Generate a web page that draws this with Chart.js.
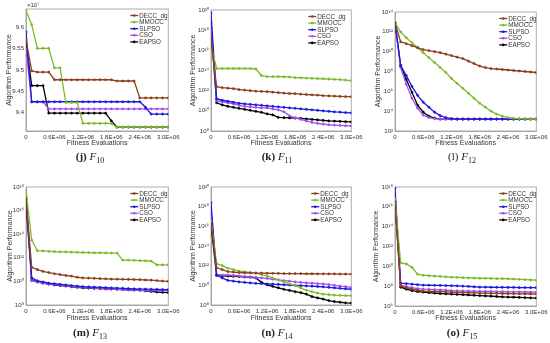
<!DOCTYPE html>
<html>
<head>
<meta charset="utf-8">
<script src="https://cdn.jsdelivr.net/npm/chart.js@4.4.0/dist/chart.umd.min.js"></script>
<style>
  body { margin: 0; background: #fff; width: 550px; height: 343px; position: relative; overflow: hidden; }
  canvas { position: absolute; }
  .cap { position: absolute; width: 120px; text-align: center; font-family: "Liberation Serif", "Times New Roman", serif; font-size: 11px; color: #222; }
  .cap sub { font-size: 8px; }
</style>
</head>
<body>
<canvas id="f10"></canvas>
<canvas id="f11"></canvas>
<canvas id="f12"></canvas>
<canvas id="f13"></canvas>
<canvas id="f14"></canvas>
<canvas id="f15"></canvas>
<div class="cap" style="left:30px;top:150px"><b>(j)</b> <i>F</i><sub>10</sub></div>
<div class="cap" style="left:217px;top:150px"><b>(k)</b> <i>F</i><sub>11</sub></div>
<div class="cap" style="left:402px;top:150px">(l) <i>F</i><sub>12</sub></div>
<div class="cap" style="left:30px;top:326px"><b>(m)</b> <i>F</i><sub>13</sub></div>
<div class="cap" style="left:217px;top:326px"><b>(n)</b> <i>F</i><sub>14</sub></div>
<div class="cap" style="left:402px;top:326px"><b>(o)</b> <i>F</i><sub>15</sub></div>
<script>
// fitness evaluations (one sample every 1.2E+05)
const xs = [0, 120000, 240000, 360000, 480000, 600000, 720000, 840000, 960000, 1080000,
  1200000, 1320000, 1440000, 1560000, 1680000, 1800000, 1920000, 2040000, 2160000, 2280000,
  2400000, 2520000, 2640000, 2760000, 2880000, 3000000];
const xTickVals = [0, 600000, 1200000, 1800000, 2400000, 3000000];
const xTickLabels = ['0', '0.6E+06', '1.2E+06', '1.8E+06', '2.4E+06', '3.0E+06'];

const names = ['DECC_dg', 'MMOCC', 'SLPSO', 'CSO', 'EAPSO'];
const colors = ['#8c3f1c', '#7cbc2a', '#1a1ae0', '#a64cf0', '#000000'];

// F10: values in units of 10^7
const f10Decc  = [9.572, 9.498, 9.495, 9.495, 9.495, 9.477, 9.477, 9.477, 9.477, 9.477, 9.477, 9.477, 9.477, 9.477, 9.477, 9.477, 9.474, 9.474, 9.474, 9.474, 9.434, 9.434, 9.434, 9.434, 9.434, 9.434];
const f10Mmocc = [9.640, 9.607, 9.551, 9.551, 9.551, 9.505, 9.505, 9.423, 9.423, 9.423, 9.374, 9.374, 9.374, 9.374, 9.374, 9.374, 9.365, 9.365, 9.365, 9.365, 9.365, 9.365, 9.365, 9.365, 9.365, 9.365];
const f10Slpso = [9.590, 9.425, 9.425, 9.425, 9.425, 9.425, 9.425, 9.425, 9.425, 9.425, 9.425, 9.425, 9.425, 9.425, 9.425, 9.425, 9.425, 9.425, 9.425, 9.425, 9.425, 9.412, 9.396, 9.396, 9.396, 9.396];
const f10Cso   = [9.550, 9.425, 9.425, 9.425, 9.408, 9.408, 9.408, 9.408, 9.408, 9.408, 9.408, 9.408, 9.408, 9.408, 9.408, 9.408, 9.408, 9.408, 9.408, 9.408, 9.408, 9.408, 9.408, 9.408, 9.408, 9.408];
const f10Eapso = [9.565, 9.463, 9.463, 9.463, 9.398, 9.398, 9.398, 9.398, 9.398, 9.398, 9.398, 9.398, 9.398, 9.398, 9.398, 9.380, 9.365, 9.365, 9.365, 9.365, 9.365, 9.365, 9.365, 9.365, 9.365, 9.365];
const f10Ticks = [9.4, 9.45, 9.5, 9.55, 9.6];

// F11..F15: log10 of the plotted values
const f11Decc  = [17.0, 12.4, 12.3, 12.25, 12.2, 12.1, 12.05, 12.0, 11.95, 11.92, 11.9, 11.85, 11.8, 11.75, 11.72, 11.7, 11.65, 11.62, 11.58, 11.55, 11.5, 11.48, 11.45, 11.43, 11.41, 11.4];
const f11Mmocc = [16.5, 14.2, 14.2, 14.2, 14.2, 14.2, 14.2, 14.2, 14.15, 13.5, 13.4, 13.4, 13.4, 13.38, 13.35, 13.3, 13.28, 13.25, 13.22, 13.2, 13.18, 13.15, 13.12, 13.1, 13.05, 13.0];
const f11Slpso = [19.7, 11.2, 11.05, 10.95, 10.85, 10.75, 10.7, 10.65, 10.6, 10.55, 10.5, 10.45, 10.4, 10.35, 10.3, 10.25, 10.2, 10.15, 10.1, 10.05, 10.0, 9.95, 9.9, 9.87, 9.83, 9.8];
const f11Cso   = [18.7, 11.0, 10.9, 10.8, 10.7, 10.55, 10.45, 10.4, 10.35, 10.3, 10.3, 10.2, 10.1, 9.9, 9.5, 9.3, 9.15, 9.0, 8.85, 8.75, 8.68, 8.62, 8.58, 8.55, 8.52, 8.5];
const f11Eapso = [18.2, 10.8, 10.6, 10.45, 10.35, 10.25, 10.15, 10.05, 9.95, 9.85, 9.7, 9.6, 9.35, 9.32, 9.3, 9.28, 9.25, 9.2, 9.15, 9.1, 9.05, 9.0, 8.98, 8.95, 8.92, 8.9];
const f11Ticks = [8, 10, 12, 14, 16, 18, 20];

const f12Decc  = [12.9, 11.0, 10.8, 10.6, 10.4, 10.2, 10.1, 10.0, 9.9, 9.75, 9.6, 9.45, 9.3, 9.05, 8.8, 8.55, 8.4, 8.3, 8.25, 8.2, 8.15, 8.1, 8.05, 8.0, 7.95, 7.9];
const f12Mmocc = [12.9, 12.0, 11.4, 10.9, 10.4, 9.9, 9.4, 8.9, 8.4, 7.9, 7.3, 6.8, 6.3, 5.8, 5.3, 4.8, 4.4, 4.0, 3.7, 3.5, 3.35, 3.28, 3.25, 3.22, 3.2, 3.2];
const f12Slpso = [12.9, 8.6, 7.6, 6.5, 5.6, 4.9, 4.4, 3.9, 3.55, 3.35, 3.25, 3.2, 3.2, 3.2, 3.2, 3.2, 3.2, 3.2, 3.2, 3.2, 3.2, 3.2, 3.2, 3.2, 3.2, 3.2];
const f12Cso   = [12.9, 8.4, 6.7, 5.3, 4.3, 3.6, 3.35, 3.25, 3.2, 3.2, 3.2, 3.2, 3.2, 3.2, 3.2, 3.2, 3.2, 3.2, 3.2, 3.2, 3.2, 3.2, 3.2, 3.2, 3.2, 3.2];
const f12Eapso = [12.9, 8.6, 7.2, 5.9, 4.6, 3.9, 3.5, 3.3, 3.2, 3.2, 3.2, 3.2, 3.2, 3.2, 3.2, 3.2, 3.2, 3.2, 3.2, 3.2, 3.2, 3.2, 3.2, 3.2, 3.2, 3.2];
const f12Ticks = [2, 4, 6, 8, 10, 12, 14];

const f13Decc  = [17.0, 11.2, 11.0, 10.85, 10.75, 10.65, 10.58, 10.5, 10.45, 10.35, 10.3, 10.28, 10.26, 10.24, 10.22, 10.2, 10.19, 10.18, 10.17, 10.16, 10.15, 10.12, 10.1, 10.07, 10.03, 10.0];
const f13Mmocc = [17.7, 13.5, 12.6, 12.58, 12.55, 12.52, 12.5, 12.5, 12.48, 12.46, 12.45, 12.44, 12.43, 12.42, 12.41, 12.4, 12.4, 11.8, 11.8, 11.78, 11.76, 11.75, 11.72, 11.4, 11.4, 11.4];
const f13Slpso = [17.1, 10.3, 10.05, 9.95, 9.85, 9.8, 9.75, 9.7, 9.65, 9.6, 9.55, 9.53, 9.51, 9.49, 9.47, 9.45, 9.43, 9.41, 9.39, 9.37, 9.35, 9.34, 9.33, 9.32, 9.31, 9.3];
const f13Cso   = [17.3, 10.05, 9.95, 9.85, 9.78, 9.72, 9.68, 9.62, 9.58, 9.54, 9.5, 9.47, 9.44, 9.41, 9.38, 9.35, 9.33, 9.31, 9.29, 9.27, 9.25, 9.24, 9.23, 9.22, 9.21, 9.2];
const f13Eapso = [16.6, 10.1, 9.95, 9.85, 9.77, 9.7, 9.65, 9.6, 9.55, 9.5, 9.45, 9.43, 9.41, 9.39, 9.37, 9.35, 9.33, 9.31, 9.29, 9.27, 9.25, 9.2, 9.15, 9.1, 9.07, 9.05];
const f13Ticks = [8, 10, 12, 14, 16, 18];

const f14Decc  = [16.3, 11.8, 11.6, 11.4, 11.35, 11.3, 11.28, 11.26, 11.25, 11.24, 11.23, 11.22, 11.21, 11.2, 11.2, 11.2, 11.19, 11.18, 11.18, 11.17, 11.17, 11.16, 11.16, 11.15, 11.15, 11.15];
const f14Mmocc = [16.5, 12.2, 12.0, 11.75, 11.6, 11.45, 11.38, 11.3, 11.25, 11.1, 10.95, 10.75, 10.55, 10.35, 10.15, 10.0, 9.75, 9.5, 9.35, 9.2, 9.1, 9.05, 9.0, 8.98, 8.96, 8.95];
const f14Slpso = [18.4, 11.05, 10.75, 10.5, 10.42, 10.35, 10.3, 10.25, 10.2, 10.18, 10.15, 10.12, 10.09, 10.06, 10.03, 10.0, 9.97, 9.94, 9.91, 9.88, 9.85, 9.8, 9.75, 9.7, 9.65, 9.6];
const f14Cso   = [17.7, 11.05, 11.05, 11.05, 11.0, 10.95, 10.9, 10.85, 10.8, 10.75, 10.7, 10.62, 10.55, 10.48, 10.42, 10.35, 10.3, 10.26, 10.22, 10.18, 10.15, 10.08, 10.0, 9.93, 9.86, 9.8];
const f14Eapso = [16.1, 11.0, 10.97, 10.95, 10.92, 10.9, 10.85, 10.82, 10.75, 10.3, 10.05, 9.9, 9.75, 9.6, 9.48, 9.35, 9.25, 9.1, 8.85, 8.72, 8.6, 8.45, 8.35, 8.28, 8.22, 8.2];
const f14Ticks = [8, 10, 12, 14, 16, 18, 20];

const f15Decc  = [16.5, 8.0, 7.85, 7.7, 7.6, 7.5, 7.48, 7.46, 7.44, 7.42, 7.4, 7.38, 7.36, 7.34, 7.32, 7.3, 7.29, 7.28, 7.27, 7.26, 7.25, 7.24, 7.23, 7.22, 7.21, 7.2];
const f15Mmocc = [16.8, 10.35, 10.25, 9.9, 9.2, 9.1, 9.06, 9.02, 8.98, 8.94, 8.9, 8.88, 8.86, 8.84, 8.82, 8.8, 8.79, 8.78, 8.77, 8.76, 8.75, 8.72, 8.69, 8.66, 8.63, 8.6];
const f15Slpso = [17.9, 8.3, 8.25, 8.2, 8.15, 8.1, 8.09, 8.08, 8.07, 8.06, 8.05, 8.03, 8.0, 7.97, 7.94, 7.9, 7.9, 7.89, 7.88, 7.88, 7.87, 7.87, 7.86, 7.86, 7.85, 7.85];
const f15Cso   = [17.3, 8.1, 7.95, 7.85, 7.75, 7.7, 7.68, 7.65, 7.62, 7.6, 7.55, 7.53, 7.52, 7.5, 7.49, 7.48, 7.47, 7.46, 7.45, 7.44, 7.43, 7.42, 7.42, 7.41, 7.41, 7.4];
const f15Eapso = [16.5, 7.9, 7.7, 7.55, 7.45, 7.4, 7.35, 7.3, 7.26, 7.23, 7.2, 7.17, 7.14, 7.11, 7.08, 7.05, 7.02, 6.99, 6.96, 6.93, 6.9, 6.88, 6.86, 6.84, 6.82, 6.8];
const f15Ticks = [6, 8, 10, 12, 14, 16, 18];

const SUP = {'0':'⁰','1':'¹','2':'²','3':'³','4':'⁴','5':'⁵','6':'⁶','7':'⁷','8':'⁸','9':'⁹'};
const pow10Label = e => '10' + String(e).split('').map(c => SUP[c]).join('');

const textColor = '#333';
const axisColor = '#9a9a9a';
const fontFam = '"Liberation Sans", Arial, sans-serif';

// light box around the plot area, like the matlab axes
const boxPlugin = {
  id: 'box',
  beforeDatasetsDraw(chart) {
    const {ctx, chartArea: a} = chart;
    ctx.save();
    ctx.strokeStyle = axisColor;
    ctx.lineWidth = 0.8;
    ctx.strokeRect(a.left, a.top, a.right - a.left, a.bottom - a.top);
    ctx.restore();
  }
};

// legend sitting inside the plot, top right
const innerLegend = {
  id: 'innerLegend',
  afterDatasetsDraw(chart, args, opts) {
    const {ctx, chartArea: a} = chart;
    const rowH = 6.6;
    const x0 = a.right - opts.fromRight;
    const y0 = a.top + 6.5;
    ctx.save();
    ctx.fillStyle = '#fff';
    ctx.fillRect(x0 - 2, a.top + 2, opts.fromRight - 1, rowH * 5 + 2);
    ctx.font = '6.3px ' + fontFam;
    ctx.textBaseline = 'middle';
    chart.data.datasets.forEach((ds, i) => {
      const y = y0 + i * rowH;
      ctx.strokeStyle = ds.borderColor;
      ctx.lineWidth = 1.3;
      ctx.beginPath(); ctx.moveTo(x0, y); ctx.lineTo(x0 + 8, y); ctx.stroke();
      ctx.fillStyle = ds.borderColor;
      ctx.beginPath(); ctx.arc(x0 + 4, y, 1.3, 0, Math.PI * 2); ctx.fill();
      ctx.fillStyle = textColor;
      ctx.fillText(ds.label, x0 + 9, y + 0.3);
    });
    ctx.restore();
  }
};

// "x10^7" multiplier above the F10 axis
const multiplier = {
  id: 'multiplier',
  afterDraw(chart, args, opts) {
    if (!opts.text) return;
    const {ctx, chartArea: a} = chart;
    ctx.save();
    ctx.font = '6px ' + fontFam;
    ctx.fillStyle = textColor;
    ctx.textBaseline = 'bottom';
    ctx.fillText(opts.text, a.left + 1, a.top - 0.5);
    ctx.restore();
  }
};

function panel(p) {
  const cv = document.getElementById(p.id);
  cv.width = p.w; cv.height = p.h;
  cv.style.left = p.x + 'px'; cv.style.top = p.y + 'px';
  cv.style.width = p.w + 'px'; cv.style.height = p.h + 'px';

  const datasets = p.series.map((vals, i) => ({
    label: names[i],
    data: xs.map((x, k) => ({x: x, y: p.log ? Math.pow(10, vals[k]) : vals[k]})),
    borderColor: colors[i],
    backgroundColor: colors[i],
    borderWidth: 1.3,
    pointRadius: 1.1,
    pointBorderWidth: 0.6,
    tension: 0
  }));

  new Chart(cv, {
    type: 'line',
    data: {datasets: datasets},
    options: {
      responsive: false,
      animation: false,
      events: [],
      layout: {padding: {top: p.top, right: p.right, left: 0, bottom: 0}},
      plugins: {
        legend: {display: false},
        tooltip: {enabled: false},
        innerLegend: {fromRight: p.legendW},
        multiplier: {text: p.mult || ''}
      },
      scales: {
        x: {
          type: 'linear', min: 0, max: 3000000,
          afterBuildTicks: s => { s.ticks = xTickVals.map(v => ({value: v})); },
          afterFit: s => { s.height = p.xH; },
          ticks: {
            callback: (v, i) => xTickLabels[i],
            font: {size: 6, family: fontFam}, color: textColor,
            maxRotation: 0, autoSkip: false, padding: 2.5
          },
          grid: {display: false, drawTicks: false},
          border: {color: axisColor, width: 0.8},
          title: {display: true, text: 'Fitness Evaluations', color: textColor,
                  font: {size: 7, family: fontFam}, padding: {top: 0, bottom: 4.8}}
        },
        y: {
          type: p.log ? 'logarithmic' : 'linear',
          min: p.yMin, max: p.yMax,
          afterBuildTicks: s => { s.ticks = p.ticks.map(t => ({value: p.log ? Math.pow(10, t) : t})); },
          afterFit: s => { s.width = p.yW; },
          ticks: {
            callback: (v, i) => p.log ? pow10Label(p.ticks[i]) : String(p.ticks[i]),
            font: {size: 6, family: fontFam}, color: textColor, padding: 2
          },
          grid: {display: false, drawTicks: false},
          border: {color: axisColor, width: 0.8},
          title: {display: true, text: 'Algorithm Performance', color: textColor,
                  font: {size: 7, family: fontFam}, padding: {top: p.titlePad, bottom: 0}}
        }
      }
    },
    plugins: [boxPlugin, innerLegend, multiplier]
  });
}

// row 1: canvases 0..152, row 2: 172..327
panel({id: 'f10', x: 0, y: 0, w: 182, h: 152, top: 9, right: 12, yW: 26, xH: 21, titlePad: 4.8,
  legendW: 38, log: false, yMin: 9.356, yMax: 9.644, ticks: f10Ticks, mult: '×10⁷',
  series: [f10Decc, f10Mmocc, f10Slpso, f10Cso, f10Eapso]});
panel({id: 'f11', x: 182, y: 0, w: 183, h: 152, top: 10, right: 8, yW: 29, xH: 21, titlePad: 6.8,
  legendW: 43, log: true, yMin: 1e8, yMax: 1e20, ticks: f11Ticks,
  series: [f11Decc, f11Mmocc, f11Slpso, f11Cso, f11Eapso]});
panel({id: 'f12', x: 365, y: 0, w: 185, h: 152, top: 12, right: 12, yW: 30, xH: 21, titlePad: 8.5,
  legendW: 37, log: true, yMin: 1e2, yMax: 1e14, ticks: f12Ticks,
  series: [f12Decc, f12Mmocc, f12Slpso, f12Cso, f12Eapso]});
panel({id: 'f13', x: 0, y: 172, w: 182, h: 155, top: 15, right: 12, yW: 26, xH: 22, titlePad: 5.5,
  legendW: 38, log: true, yMin: 1e8, yMax: 1e18, ticks: f13Ticks,
  series: [f13Decc, f13Mmocc, f13Slpso, f13Cso, f13Eapso]});
panel({id: 'f14', x: 182, y: 172, w: 183, h: 155, top: 15, right: 8, yW: 29, xH: 22, titlePad: 6.5,
  legendW: 40, log: true, yMin: 1e8, yMax: 1e20, ticks: f14Ticks,
  series: [f14Decc, f14Mmocc, f14Slpso, f14Cso, f14Eapso]});
panel({id: 'f15', x: 365, y: 172, w: 185, h: 155, top: 15, right: 12, yW: 30, xH: 21, titlePad: 6.5,
  legendW: 37, log: true, yMin: 1e6, yMax: 1e18, ticks: f15Ticks,
  series: [f15Decc, f15Mmocc, f15Slpso, f15Cso, f15Eapso]});
</script>
</body>
</html>
